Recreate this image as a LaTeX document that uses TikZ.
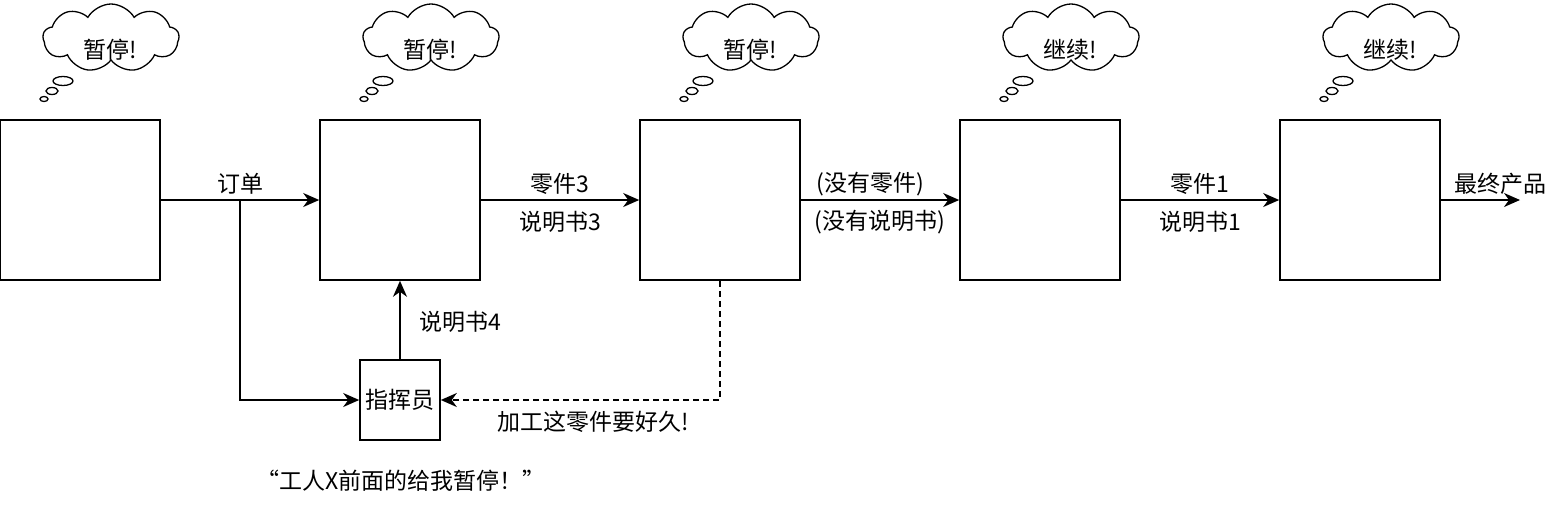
\documentclass[tikz,border=0pt]{standalone}
\usepackage{fontspec}
\setmainfont{Noto Sans CJK SC}
\usetikzlibrary{shapes.symbols,arrows.meta}
\begin{document}
\begin{tikzpicture}[x=1pt,y=-1pt,
  box/.style={draw,line width=1.6pt,minimum size=160pt,inner sep=0pt},
  cmdbox/.style={draw,line width=1.6pt,minimum size=80pt,inner sep=0pt,font=\fontsize{23}{26}\selectfont},
  lbl/.style={font=\fontsize{23}{26}\selectfont,inner sep=0pt},
  conn/.style={line width=1.6pt,-{Stealth[length=16pt,width=14pt,inset=5pt]}},
  thought/.style={draw,line width=1.3pt,shape=cloud,cloud puffs=9,cloud puff arc=120,aspect=2,minimum width=136pt,minimum height=68pt,inner sep=0pt},
  bub/.style={draw,line width=1.3pt}
]
\useasboundingbox (0,0) rectangle (1564,504);
\node[box] (b1) at (80,200) {};
\node[box] (b2) at (400,200) {};
\node[box] (b3) at (720,200) {};
\node[box] (b4) at (1040,200) {};
\node[box] (b5) at (1360,200) {};
\node[cmdbox] (cmd) at (400,400) {指挥员};

\foreach \bx/\t [count=\i] in {0/暂停!,320/暂停!,640/暂停!,960/继续!,1280/继续!}{
  \node[thought] (c\i) at (\bx+111,38) {};
  \node[lbl] (ct\i) at (\bx+110,50) {\t};
  \draw[bub] (\bx+63,81) ellipse (10pt and 4.5pt);
  \draw[bub] (\bx+52,91) ellipse (6pt and 3.5pt);
  \draw[bub] (\bx+44,99) ellipse (4pt and 2.5pt);
}

\coordinate (j) at (240,200);
\coordinate (fin) at (1520,200);
\draw[conn] (b1.east) -- (b2.west);
\draw[conn] (j) |- (cmd.west);
\draw[conn] (cmd.north) -- (b2.south);
\draw[conn] (b2.east) -- (b3.west);
\draw[conn] (b3.east) -- (b4.west);
\draw[conn] (b4.east) -- (b5.west);
\draw[conn] (b5.east) -- (fin);
\draw[conn,dashed,dash pattern=on 6pt off 4pt] (b3.south) |- (cmd.east);

\node[lbl] (l1) at (240,184) {订单};
\node[lbl] (l2) at (560,184) {零件3};
\node[lbl] (l3) at (560,222) {说明书3};
\node[lbl] (l4) at (870,184) {(没有零件)};
\node[lbl] (l5) at (880,222) {(没有说明书)};
\node[lbl] (l6) at (1200,184) {零件1};
\node[lbl] (l7) at (1200,222) {说明书1};
\node[lbl] (l8) at (1500,184) {最终产品};
\node[lbl] (l9) at (460,322) {说明书4};
\node[lbl] (l10) at (593,422) {加工这零件要好久!};
\node[lbl] (l11) at (401,481) {“工人X前面的给我暂停！”};
\end{tikzpicture}
\end{document}
